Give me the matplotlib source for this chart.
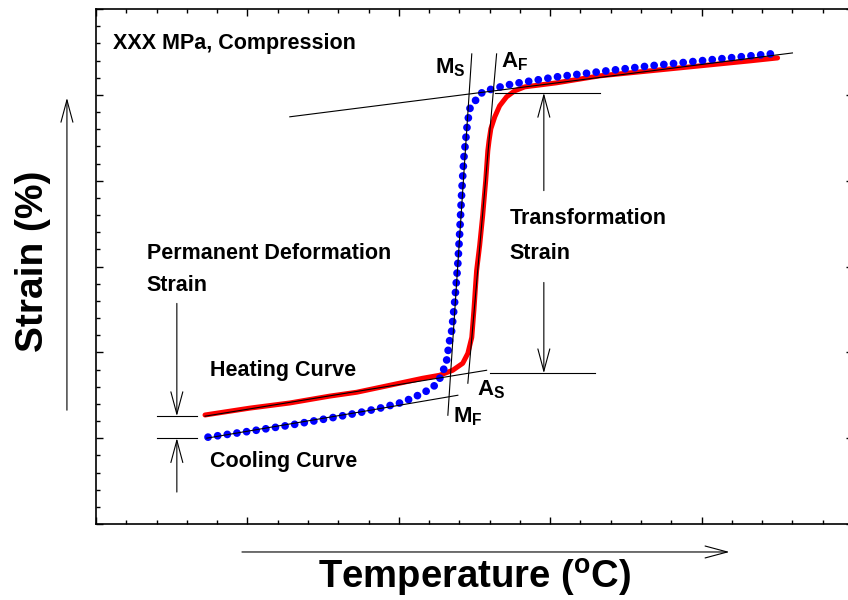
import matplotlib
matplotlib.use('Agg')
import matplotlib.pyplot as plt
from matplotlib.ticker import MultipleLocator

plt.rcParams['font.family'] = ['Liberation Sans', 'DejaVu Sans']
plt.rcParams['font.weight'] = 'bold'
plt.rcParams['axes.labelweight'] = 'bold'
plt.rcParams['mathtext.fontset'] = 'custom'
plt.rcParams['mathtext.rm'] = 'Liberation Sans:bold'
plt.rcParams['mathtext.it'] = 'Liberation Sans:bold'
plt.rcParams['mathtext.bf'] = 'Liberation Sans:bold'

# heating curve (red line), temperature / strain in arbitrary units
heat_temp = [36.0, 50.8, 64.0, 77.2, 86.1, 97.0, 107.9, 113.5, 117.8, 121.1, 122.8,
             124.1, 124.8, 125.4, 125.7, 126.7, 127.7, 128.7, 129.4, 129.8, 130.4,
             131.7, 133.3, 135.6, 138.3, 141.6, 152.1, 166.3, 182.8, 199.3, 215.8, 225.1]
heat_strain = [1.27, 1.35, 1.41, 1.49, 1.535, 1.616, 1.698, 1.733, 1.791, 1.872, 1.988,
               2.174, 2.488, 2.802, 2.953, 3.244, 3.593, 4.000, 4.349, 4.465, 4.605,
               4.744, 4.872, 4.977, 5.047, 5.093, 5.140, 5.221, 5.279, 5.337, 5.395, 5.430]

# cooling curve (blue dots)
cool_temp = [37.0, 50.8, 64.0, 77.2, 86.1, 93.7, 101.3, 107.9, 111.2, 112.9, 114.5,
             115.8, 116.8, 117.5, 118.5, 119.5, 120.1, 120.8, 121.5, 122.5, 123.4,
             125.7, 127.7, 131.0, 137.6, 152.1, 168.6, 182.8, 199.3, 212.5, 222.8]
cool_strain = [1.012, 1.081, 1.151, 1.233, 1.291, 1.349, 1.419, 1.523, 1.593, 1.651, 1.767,
               1.907, 2.140, 2.256, 2.605, 3.035, 3.384, 3.884, 4.267, 4.616, 4.837,
               4.953, 5.035, 5.070, 5.128, 5.209, 5.279, 5.337, 5.395, 5.442, 5.477]

# construction lines: ((t0, t1), (s0, s1))
ms_mf_line = ((124.1, 116.2), (5.477, 1.267))
as_af_line = ((132.3, 122.8), (5.477, 1.640))
upper_tangent = ((64.0, 230.0), (4.744, 5.488))
heat_tangent = ((36.0, 129.0), (1.256, 1.791))
cool_tangent = ((36.6, 119.5), (1.000, 1.500))
top_level = ((131.7, 166.3), (5.023, 5.023))
bottom_level = ((130.0, 164.7), (1.756, 1.756))
perm_top = ((20.1, 33.3), (1.256, 1.256))
perm_bottom = ((20.1, 33.3), (1.000, 1.000))

fig = plt.figure(figsize=(8.48, 6), dpi=100)
ax = fig.add_axes([96 / 848, 76 / 600, 757 / 848, 515 / 600])

ax.plot(heat_temp, heat_strain, color='#ff0000', lw=3.6, solid_capstyle='round',
        solid_joinstyle='round', zorder=2)
ax.plot(cool_temp, cool_strain, color='#0000ff', lw=5.6, ls=(0, (0.001, 1.25)),
        dash_capstyle='round', zorder=3)

for t, s in [ms_mf_line, as_af_line, upper_tangent, heat_tangent, cool_tangent,
             top_level, bottom_level, perm_top, perm_bottom]:
    ax.plot(t, s, color='black', lw=0.8, zorder=4)


def arrow(tail, tip):
    ax.annotate('', xy=tip, xytext=tail, annotation_clip=False,
                arrowprops=dict(arrowstyle='->,head_length=16,head_width=4.3',
                                mutation_scale=1, lw=0.8, color='black',
                                shrinkA=0, shrinkB=0))


arrow((26.7, 2.570), (26.7, 1.256))
arrow((26.7, 0.372), (26.7, 1.000))
arrow((147.9, 3.884), (147.9, 5.023))
arrow((147.9, 2.814), (147.9, 1.756))
arrow((-9.6, 1.326), (-9.6, 4.965))
arrow((48.2, -0.326), (209.2, -0.326))

fs = 15.5
ax.text(5.6, 5.593, 'XXX MPa, Compression', fontsize=fs, va='center')
ax.text(111.9, 5.244, 'M$_{S}$', fontsize=16, va='baseline')
ax.text(133.7, 5.314, 'A$_{F}$', fontsize=16, va='baseline')
ax.text(125.7, 1.500, 'A$_{S}$', fontsize=16, va='baseline')
ax.text(117.8, 1.186, 'M$_{F}$', fontsize=16, va='baseline')
ax.text(136.6, 3.558, 'Transformation', fontsize=fs, va='center')
ax.text(136.6, 3.157, 'Strain', fontsize=fs, va='center')
ax.text(16.8, 3.157, 'Permanent Deformation', fontsize=fs, va='center')
ax.text(16.8, 2.773, 'Strain', fontsize=fs, va='center')
ax.text(37.6, 1.791, 'Heating Curve', fontsize=fs, va='center')
ax.text(37.6, 0.733, 'Cooling Curve', fontsize=fs, va='center')

ax.set_xlim(0, 250)
ax.set_ylim(0, 6)
ax.xaxis.set_major_locator(MultipleLocator(50))
ax.xaxis.set_minor_locator(MultipleLocator(10))
ax.yaxis.set_major_locator(MultipleLocator(1))
ax.yaxis.set_minor_locator(MultipleLocator(0.2))
ax.tick_params(which='both', direction='in', top=True, right=True,
               labelbottom=False, labelleft=False, width=1)
ax.tick_params(which='major', length=5)
ax.tick_params(which='minor', length=3)
for sp in ax.spines.values():
    sp.set_linewidth(1.2)

ax.set_xlabel(r'Temperature ($^{\mathregular{o}}$C)', fontsize=27.5,
              fontweight='bold', va='center')
ax.xaxis.set_label_coords(0.5, -0.104)
ax.set_ylabel('Strain (%)', fontsize=28, fontweight='bold', va='center')
ax.yaxis.set_label_coords(-0.083, 0.51)

fig.savefig('out.png', dpi=100)
